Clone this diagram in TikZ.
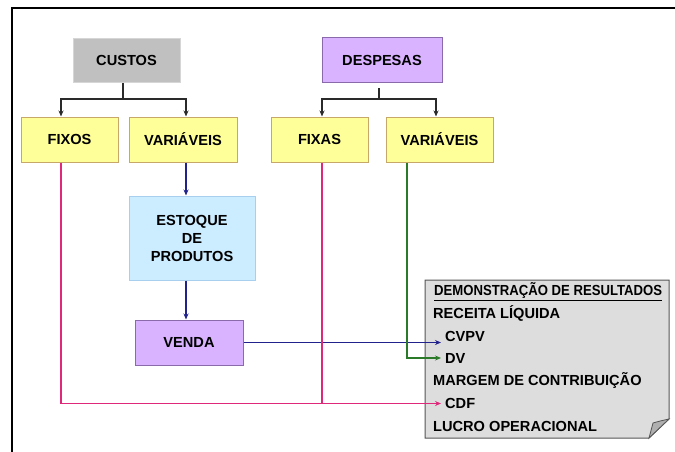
\documentclass[tikz,border=0pt]{standalone}
\usepackage{fontspec}
\usepackage{graphicx}
\setmainfont{Liberation Sans}
\usetikzlibrary{arrows.meta}
\definecolor{yfill}{HTML}{FFFF99}
\definecolor{ybord}{HTML}{C8A868}
\definecolor{pfill}{HTML}{D9B3FF}
\definecolor{pbord}{HTML}{8A6AAA}
\definecolor{bfill}{HTML}{CCECFF}
\definecolor{bbord}{HTML}{A8D0EE}
\definecolor{gfill}{HTML}{C0C0C0}
\definecolor{gbord}{HTML}{D6D6D6}
\definecolor{dfill}{HTML}{DDDDDD}
\definecolor{dbord}{HTML}{555555}
\definecolor{ffill}{HTML}{AFAFAF}
\definecolor{lnavy}{HTML}{22228C}
\definecolor{lgreen}{HTML}{2A7A2A}
\definecolor{lpink}{HTML}{E0287A}
\definecolor{ltree}{HTML}{2A2A2A}
\tikzset{
  box/.style={draw, line width=1pt, inner sep=0pt, align=center, text=black},
  ybox/.style={box, fill=yfill, draw=ybord},
  pbox/.style={box, fill=pfill, draw=pbord},
  bbox/.style={box, fill=bfill, draw=bbord},
  gbox/.style={box, fill=gfill, draw=gbord},
  tip/.style={-{Stealth[length=6pt,width=5pt]}},
  treeline/.style={draw=ltree, line width=1.6pt},
  navyline/.style={draw=lnavy, line width=1.5pt},
  greenline/.style={draw=lgreen, line width=1.5pt},
  pinkline/.style={draw=lpink, line width=1.5pt},
  dretext/.style={anchor=west, inner xsep=0pt, inner ysep=1pt},
  dreind/.style={anchor=west, inner xsep=4pt, inner ysep=1pt},
}
\begin{document}
\begin{tikzpicture}[x=1pt,y=-1pt, font=\bfseries\fontsize{14.6}{18}\selectfont]
\useasboundingbox (0,0) rectangle (675,452);
\draw[line width=2.6pt] (12,452) -- (12,8) -- (675,8);

% boxes
\node[gbox, minimum width=107pt, minimum height=44pt] (custos) at (126.5,60.5) {CUSTOS};
\node[pbox, minimum width=120pt, minimum height=45pt] (despesas) at (382,60.5) {DESPESAS};
\node[ybox, minimum width=97pt, minimum height=45pt] (fixos) at (69.5,139.5) {FIXOS};
\node[ybox, minimum width=108pt, minimum height=45pt] (varc) at (183,139.5) {VARIÁVEIS};
\node[ybox, minimum width=97pt, minimum height=45pt] (fixas) at (319.5,139.5) {FIXAS};
\node[ybox, minimum width=107pt, minimum height=45pt] (vard) at (439.5,139.5) {VARIÁVEIS};
\node[bbox, minimum width=126pt, minimum height=84pt] (estoque) at (192,238) {ESTOQUE\\DE\\PRODUTOS};
\node[pbox, minimum width=108pt, minimum height=45pt] (venda) at (189,342.5) {VENDA};

% DRE document shape
\draw[fill=dfill, draw=dbord, line width=1pt] (425,280) -- (669,280) -- (669,419) -- (649,438) -- (425,438) -- cycle;
\draw[fill=ffill, draw=dbord, line width=0.8pt] (669,419) .. controls (660,421) .. (653,423) .. controls (651,430) .. (649,438) -- cycle;

\node[dretext] (titulo) at (434,292) {\scalebox{0.9}[1]{\underline{DEMONSTRAÇÃO DE RESULTADOS}}};
\node[dretext] (receita) at (433,313.5) {RECEITA LÍQUIDA};
\node[dreind] (cvpv) at (441,336.5) {CVPV};
\node[dreind] (dv) at (441,358) {DV};
\node[dretext] (margem) at (433,380.5) {MARGEM DE CONTRIBUIÇÃO};
\node[dreind] (cdf) at (441,403.5) {CDF};
\node[dretext] (lucro) at (433,426.5) {LUCRO OPERACIONAL};

% tree connectors
\coordinate (cj) at (123,99);
\draw[treeline] ([xshift=-3.5pt]custos.south) -- (cj);
\draw[treeline, tip] (cj) -| ([xshift=-8.5pt]fixos.north);
\draw[treeline, tip] (cj) -| ([xshift=3pt]varc.north);
\coordinate (dj) at (379,99);
\draw[treeline, shorten <=5pt] ([xshift=-3pt]despesas.south) -- (dj);
\draw[treeline, tip] (dj) -| ([xshift=2.5pt]fixas.north);
\draw[treeline, tip] (dj) -| ([xshift=-3.5pt]vard.north);

% navy flow
\draw[navyline, tip] ([xshift=3pt]varc.south) -- ([xshift=3pt]varc.south |- estoque.north);
\draw[navyline, tip] ([xshift=-6pt]estoque.south) -- ([xshift=-6pt]estoque.south |- venda.north);
\draw[navyline, tip] (venda.east) -- (venda.east -| cvpv.west);

% green
\draw[greenline, tip] ([xshift=-32.5pt]vard.south) |- (dv.west);

% pink
\draw[pinkline, tip] ([xshift=-8.5pt]fixos.south) |- (cdf.west);
\draw[pinkline] ([xshift=2.5pt]fixas.south) -- ([xshift=2.5pt]fixas.south |- cdf.west);
\end{tikzpicture}
\end{document}
